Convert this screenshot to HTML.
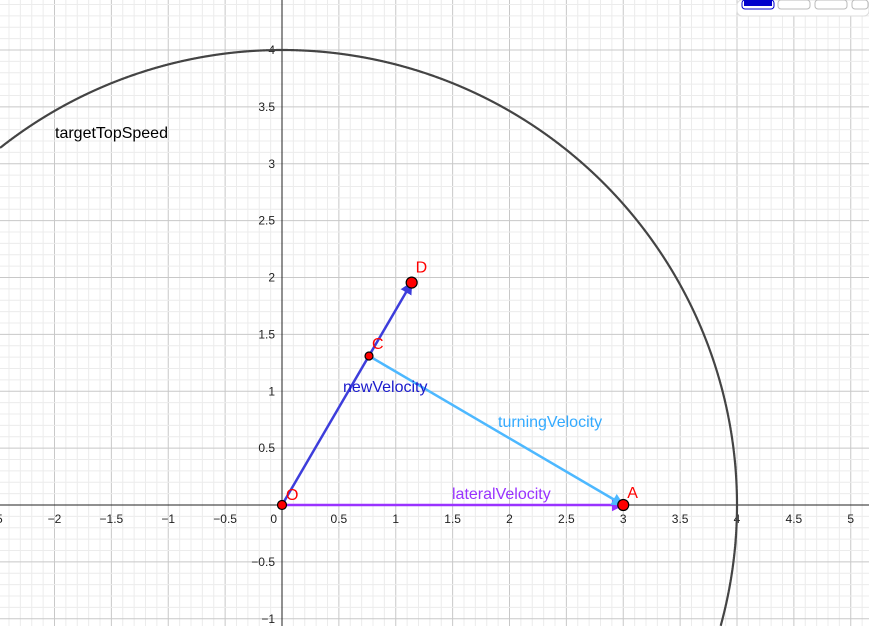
<!DOCTYPE html>
<html><head><meta charset="utf-8"><style>
html,body{margin:0;padding:0;background:#fff;overflow:hidden;width:869px;height:627px}
svg{display:block;position:absolute;left:0;top:0;font-family:"Liberation Sans",Arial,sans-serif}
</style></head><body>
<svg id="g" width="869" height="627" viewBox="0 0 869 627"></svg>
<script>
const xTicks=[-2.5,-2,-1.5,-1,-0.5,0.5,1,1.5,2,2.5,3,3.5,4,4.5,5];
const xTickLabels=[".5","−2","−1.5","−1","−0.5","0.5","1","1.5","2","2.5","3","3.5","4","4.5","5"];
const yTicks=[-1,-0.5,0.5,1,1.5,2,2.5,3,3.5,4];
const yTickLabels=["−1","−0.5","0.5","1","1.5","2","2.5","3","3.5","4"];
const pointNames=["O","A","C","D"];
const pointX=[0,3,0.765,1.14];
const pointY=[0,0,1.31,1.955];
const circleRadius=[4];
const NS="http://www.w3.org/2000/svg";
const svg=document.getElementById('g');
const ox=282,oy=505,s=113.75;
const X=v=>ox+v*s, Y=v=>oy-v*s;
function el(t,a,p){const e=document.createElementNS(NS,t);for(const k in a)e.setAttribute(k,a[k]);(p||svg).appendChild(e);return e;}
const defs=el('defs',{});
[['ab','#3d3ddb'],['al','#4db8ff'],['ap','#9933ff']].forEach(([id,c])=>{const m=el('marker',{id,viewBox:'0 0 10 10',refX:9,refY:5,markerWidth:5,markerHeight:5,orient:'auto',markerUnits:'strokeWidth'},defs);el('path',{d:'M0,0L10,5L0,10z',fill:c},m);});
const grid=el('g',{});
for(let i=-30;i<=60;i++){const x=X(i/10);if(x<0||x>869)continue;el('line',{x1:x,y1:0,x2:x,y2:626,stroke:i%5==0?'#c8c8c8':'#ececec','stroke-width':1},grid);}
for(let i=-12;i<=46;i++){const y=Y(i/10);if(y<0||y>627)continue;el('line',{x1:0,y1:y,x2:869,y2:y,stroke:i%5==0?'#c8c8c8':'#ececec','stroke-width':1},grid);}
const xa=el('line',{x1:0,y1:oy,x2:869,y2:oy,stroke:'#222','stroke-width':1});
const ya=el('line',{x1:ox,y1:0,x2:ox,y2:626,stroke:'#222','stroke-width':1});
xTicks.forEach((v,i)=>{const t=el('text',{x:X(v),y:oy+18,'font-size':12,'text-anchor':'middle',fill:'#222'});t.textContent=xTickLabels[i];
});
const z=el('text',{x:ox-5,y:oy+18,'font-size':12,'text-anchor':'end',fill:'#222'});z.textContent='0';
yTicks.forEach((v,i)=>{const t=el('text',{x:ox-7,y:Y(v)+4,'font-size':12,'text-anchor':'end',fill:'#222'});t.textContent=yTickLabels[i];
});
let d='',pen=false;
for(let k=0;k<=7200;k++){const a=k/7200*2*Math.PI;const px=X(circleRadius[0]*Math.cos(a)),py=Y(circleRadius[0]*Math.sin(a));
 if(px>=0&&px<=869&&py>=0&&py<=626){d+=(pen?'L':'M')+px.toFixed(2)+','+py.toFixed(2);pen=true;}else pen=false;}
const c=el('path',{d,fill:'none',stroke:'#444','stroke-width':2.2});

const ct=el('text',{x:55,y:138,'font-size':16,fill:'#000'});ct.textContent='targetTopSpeed';

const P=n=>{const i=pointNames.indexOf(n);return [X(pointX[i]),Y(pointY[i])];};
function vec(a,b,col,m,name,label,lx,ly,tc){const [x1,y1]=P(a),[x2,y2]=P(b);
const l=el('line',{x1,y1,x2,y2,stroke:col,'stroke-width':2.5,'marker-end':'url(#'+m+')'});

const t=el('text',{x:lx,y:ly,'font-size':16,fill:tc});t.textContent=label;
}
vec('O','A','#9933ff','ap','lateral-velocity-vector','lateralVelocity',452,499,'#9933ff');
vec('C','A','#4db8ff','al','turning-velocity-vector','turningVelocity',498,427,'#33aaff');
vec('O','D','#3d3ddb','ab','new-velocity-vector','newVelocity',343,392,'#1a1acc');
const rad={O:4.5,A:5.5,C:4,D:5.5};
const lo={O:[4,-5],A:[4,-7],C:[3,-7],D:[4,-10]};
pointNames.forEach(n=>{const [x,y]=P(n);
const p=el('circle',{cx:x,cy:y,r:rad[n],fill:'#ff0000',stroke:'#000','stroke-width':1.2});

const t=el('text',{x:x+lo[n][0],y:y+lo[n][1],'font-size':16,fill:'#ff0000'});t.textContent=n;
});
const tb=el('g',{});
el('rect',{x:737,y:0,width:132,height:16,rx:5,fill:'#fff',stroke:'#ddd'},tb);
[[742,'#0000cc','#0000cc'],[778,'#fff','#bbb'],[815,'#fff','#bbb'],[852,'#fff','#bbb']].forEach(([x,f,st],i)=>{
const b=el('rect',{x,y:0,width:Math.min(32,868-x),height:9,rx:3,fill:'#fff',stroke:st,'stroke-width':1},tb);

if(i==0)el('rect',{x:x+2,y:0,width:28,height:6,fill:f},tb);});
</script>
</body></html>
